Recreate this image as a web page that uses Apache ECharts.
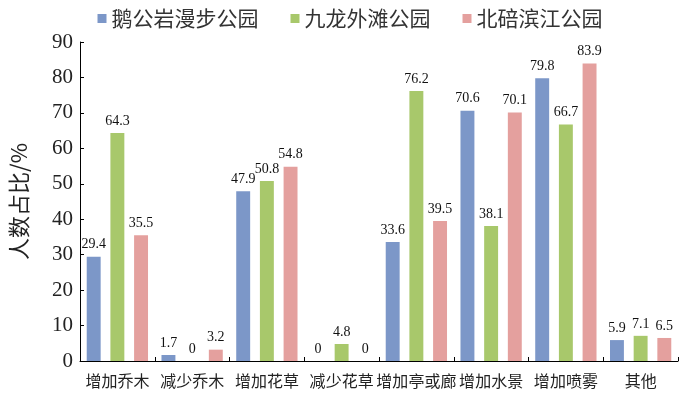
<!DOCTYPE html>
<html><head><meta charset="utf-8">
<script src="https://cdn.jsdelivr.net/npm/echarts@6/dist/echarts.min.js"></script>
<style>html,body{margin:0;padding:0;background:#fff}#c{width:700px;height:395px}</style>
</head><body><div id="c"></div>
<script>
const categories = ['增加乔木','减少乔木','增加花草','减少花草','增加亭或廊','增加水景','增加喷雾','其他'];
const seriesNames = ['鹅公岩漫步公园','九龙外滩公园','北碚滨江公园'];
const egongyan = [29.4, 1.7, 47.9, 0, 33.6, 70.6, 79.8, 5.9];
const jiulong = [64.3, 0, 50.8, 4.8, 76.2, 38.1, 66.7, 7.1];
const beibei = [35.5, 3.2, 54.8, 0, 39.5, 70.1, 83.9, 6.5];
const colors = ['#7c97c8', '#a8c86b', '#e4a09e'];
const yTicks = [0,10,20,30,40,50,60,70,80,90];

const chart = echarts.init(document.getElementById('c'));
const cjk = '"Noto Sans CJK SC", "Noto Sans", sans-serif';
const serif = '"Liberation Serif", "DejaVu Serif", serif';
const mk = (name, data, i) => ({
  name, type: 'bar', data,
  itemStyle: {color: colors[i]},
  barGap: '70%', barCategoryGap: '18%',
  label: {show: true, position: 'top', distance: 5, fontFamily: serif, fontSize: 14, color: '#111', formatter: p => String(p.value)}
});
chart.setOption({
  animation: false,
  color: colors,
  legend: {
    top: 3, left: 'center', itemWidth: 9, itemHeight: 9, itemGap: 32,
    icon: 'rect',
    textStyle: {fontFamily: cjk, fontSize: 21, color: '#333'},
    data: seriesNames
  },
  grid: {left: 75, right: 22, top: 42, bottom: 34},
  xAxis: {
    type: 'category', data: categories,
    axisLine: {lineStyle: {color: '#000', width: 1}},
    axisTick: {show: true, inside: true, length: 4, lineStyle: {color: '#000'}},
    axisLabel: {fontFamily: cjk, fontSize: 16, color: '#222', margin: 12, interval: 0}
  },
  yAxis: {
    type: 'value', min: 0, max: 90, interval: 10,
    name: '人数占比/%', nameLocation: 'middle', nameGap: 50, nameRotate: 90,
    nameTextStyle: {fontFamily: cjk, fontSize: 22, color: '#222'},
    axisLine: {show: true, lineStyle: {color: '#000', width: 1}},
    axisTick: {show: true, inside: true, length: 4, lineStyle: {color: '#000'}},
    axisLabel: {fontFamily: serif, fontSize: 21, color: '#222', margin: 7,
      formatter: v => yTicks.includes(v) ? String(v) : ''},
    splitLine: {show: false}
  },
  series: [mk(seriesNames[0], egongyan, 0), mk(seriesNames[1], jiulong, 1), mk(seriesNames[2], beibei, 2)]
});
</script></body></html>
